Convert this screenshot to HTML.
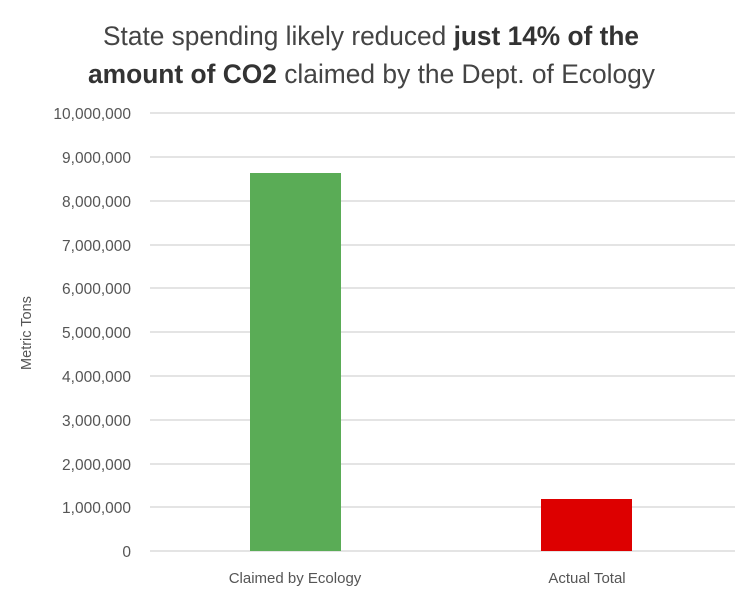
<!DOCTYPE html>
<html><head><style>body{margin:0;background:#fff}svg{display:block}</style></head><body>
<svg width="750" height="601" xmlns="http://www.w3.org/2000/svg" font-family="Liberation Sans, sans-serif">
<rect width="750" height="601" fill="#fff"/>
<text x="103" y="45" font-size="27" fill="#444" textLength="536" lengthAdjust="spacingAndGlyphs">State spending likely reduced <tspan font-weight="bold" fill="#333">just 14% of the</tspan></text>
<text x="88" y="83" font-size="27" fill="#444" textLength="567" lengthAdjust="spacingAndGlyphs"><tspan font-weight="bold" fill="#333">amount of CO2</tspan> claimed by the Dept. of Ecology</text>
<g stroke="#dcdcdc" stroke-width="1.5">
<line x1="150" x2="735" y1="113" y2="113"/><line x1="150" x2="735" y1="157" y2="157"/>
<line x1="150" x2="735" y1="201" y2="201"/><line x1="150" x2="735" y1="245" y2="245"/>
<line x1="150" x2="735" y1="288" y2="288"/><line x1="150" x2="735" y1="332" y2="332"/>
<line x1="150" x2="735" y1="376" y2="376"/><line x1="150" x2="735" y1="420" y2="420"/>
<line x1="150" x2="735" y1="464" y2="464"/><line x1="150" x2="735" y1="507" y2="507"/>
<line x1="150" x2="735" y1="551" y2="551"/>
</g>
<g font-size="15.5" fill="#555" text-anchor="end">
<text x="131" y="119">10,000,000</text><text x="131" y="163">9,000,000</text>
<text x="131" y="207">8,000,000</text><text x="131" y="251">7,000,000</text>
<text x="131" y="294">6,000,000</text><text x="131" y="338">5,000,000</text>
<text x="131" y="382">4,000,000</text><text x="131" y="426">3,000,000</text>
<text x="131" y="470">2,000,000</text><text x="131" y="513">1,000,000</text>
<text x="131" y="557">0</text>
</g>
<text transform="translate(31,333) rotate(-90)" font-size="14.5" fill="#555" text-anchor="middle">Metric Tons</text>
<rect x="250" y="173" width="91" height="378" fill="#5aac56"/>
<rect x="541" y="499" width="91" height="52" fill="#dd0000"/>
<g font-size="15" fill="#555" text-anchor="middle">
<text x="295" y="583">Claimed by Ecology</text>
<text x="587" y="583">Actual Total</text>
</g>
</svg>
</body></html>
